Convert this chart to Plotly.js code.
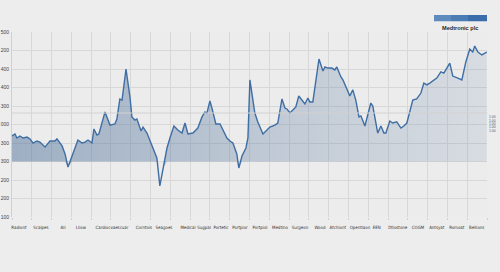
<!DOCTYPE html>
<html>
<head>
<meta charset="utf-8">
<script src="https://cdn.plot.ly/plotly-3.0.1.min.js"></script>
<style>html,body{margin:0;padding:0;background:#ededed;}#chart{width:500px;height:272px;}</style>
</head>
<body>
<div id="chart"></div>
<script>
// Category labels along the x axis and where each sits (axis units, 0..24)
const categories = ["Radiont","Scalpes","All","Lliow","Cardiocvaescuar","Corntois","Seagoes","Medical","Sugpal","Portetic","Portplor","Portpiol","Medtino","Surgeon","Wood","Atchiont","Opentiaon","EEN","Dtiostone","COGM","Antsyat","Romoat","Bellions"];
const categoryPos = [0.35,1.46,2.58,3.48,5.05,6.67,7.68,8.89,9.70,10.56,11.52,12.53,13.54,14.55,15.56,16.46,17.58,18.43,19.49,20.51,21.46,22.47,23.48];

// Series: Medtronic plc
const seriesName = "Medtronic plc";
const seriesX = [0,0.15,0.25,0.40,0.56,0.76,0.91,1.06,1.26,1.41,
  1.67,1.92,2.17,2.27,2.53,2.68,2.83,3.03,3.18,3.33,
  3.54,3.69,3.84,4.04,4.14,4.29,4.39,4.70,4.95,5.20,
  5.30,5.45,5.56,5.76,5.96,6.06,6.21,6.31,6.52,6.62,
  6.82,6.92,7.12,7.32,7.47,7.63,7.83,7.98,8.18,8.38,
  8.59,8.74,8.89,9.14,9.39,9.60,9.75,9.85,10.00,10.10,
  10.30,10.51,10.76,10.86,11.01,11.16,11.36,11.46,11.62,11.82,
  11.92,12.02,12.27,12.42,12.68,12.78,13.03,13.28,13.43,13.64,
  13.79,13.89,14.04,14.19,14.34,14.49,14.70,14.80,14.95,15.05,
  15.20,15.35,15.51,15.71,15.81,15.96,16.16,16.31,16.41,16.62,
  16.72,16.92,17.07,17.22,17.37,17.53,17.63,17.83,18.13,18.23,
  18.48,18.64,18.79,18.89,19.09,19.24,19.44,19.65,19.80,19.95,
  20.25,20.45,20.66,20.81,20.96,21.11,21.26,21.46,21.67,21.82,
  22.12,22.27,22.53,22.73,22.93,23.13,23.28,23.38,23.54,23.74,
  23.99];
const seriesY = [538,549,527,538,527,532,522,500,511,505,
  478,511,511,522,484,441,370,430,473,516,
  500,505,516,500,576,543,549,668,597,603,
  630,738,732,900,749,641,624,630,565,586,
  554,527,473,419,268,365,473,527,592,570,
  554,608,549,554,581,641,668,662,727,689,
  603,603,543,527,511,500,441,365,430,473,
  527,841,662,614,549,559,586,597,608,738,
  689,684,662,678,695,754,722,711,743,722,
  722,841,954,889,911,905,905,895,911,857,
  841,792,754,787,732,641,646,592,716,700,
  554,592,554,554,619,608,614,581,592,608,
  732,738,770,824,814,824,835,851,884,878,
  932,862,851,841,938,1008,992,1024,992,976,
  992];

// Fill reference level and a highlighted level line
const fillBase = 400;
const refLevel = 662;

// Y tick labels (as printed in the reference)
const yTickVals = [100,200,300,400,500,600,700,800,900,1000,1100];
const yTickText = ["100","200","200","300","300","000","300","400","400","200","500"];
// Small right-hand scale labels
const y2TickVals = [565,586,603,619,641];
const y2TickText = ["1.00","1.00","1.00","1.00","1.00"];

const baseY = seriesY.map(v => Math.min(v, fillBase));

const traces = [
  {x: seriesX, y: baseY, type: 'scatter', mode: 'lines', line: {width: 0, color: 'rgba(0,0,0,0)'}, hoverinfo: 'skip', showlegend: false},
  {x: seriesX, y: seriesY, type: 'scatter', mode: 'lines', name: seriesName, fill: 'tonexty',
   fillgradient: {type: 'horizontal', colorscale: [[0,'rgba(70,106,150,0.47)'],[0.5,'rgba(70,106,150,0.28)'],[1,'rgba(70,106,150,0.12)']]},
   line: {color: '#3e6ea4', width: 1.4}, showlegend: false},
  {x: [0], y: [fillBase], yaxis: 'y2', type: 'scatter', mode: 'markers', marker: {opacity: 0}, hoverinfo: 'skip', showlegend: false}
];

const gridCol = '#d8d8d8';
const layout = {
  width: 500, height: 272,
  margin: {l: 12, r: 13, t: 32, b: 55},
  paper_bgcolor: '#ededed',
  plot_bgcolor: '#ececec',
  font: {family: 'Liberation Sans, Arial, sans-serif', color: '#333'},
  showlegend: false,
  xaxis: {
    range: [0, 24], showgrid: false, zeroline: false, showline: false,
    tickmode: 'array', tickvals: categoryPos, ticktext: categories, tickangle: 0,
    tickfont: {family: 'DejaVu Sans Condensed, Liberation Sans Narrow, Liberation Sans, sans-serif', size: 4.4, color: '#333'},
    ticks: '', ticklabelstandoff: 7,
    minor: {tickmode: 'linear', tick0: 0, dtick: 1, showgrid: true, gridcolor: gridCol, gridwidth: 1, ticks: 'outside', ticklen: 2, tickcolor: '#cfcfcf'}
  },
  yaxis: {
    range: [100, 1100], showgrid: true, gridcolor: gridCol, gridwidth: 1, zeroline: false,
    showline: true, linecolor: '#d0d0d0', linewidth: 1,
    tickmode: 'array', tickvals: yTickVals, ticktext: yTickText,
    tickfont: {size: 5, color: '#444'}, ticks: '', ticklabelstandoff: 1
  },
  yaxis2: {
    range: [100, 1100], overlaying: 'y', side: 'right', showgrid: false, zeroline: false, showline: false,
    tickmode: 'array', tickvals: y2TickVals, ticktext: y2TickText,
    tickfont: {size: 3.4, color: '#555'}, ticks: '', ticklabelstandoff: 1
  },
  shapes: [
    {type: 'line', xref: 'paper', yref: 'y', x0: 0, x1: 1, y0: refLevel, y1: refLevel, line: {color: '#d2d2d2', width: 1}},
    {type: 'rect', xref: 'paper', yref: 'paper', x0: 0.8884, x1: 0.9242, y0: 1.058, y1: 1.092, fillcolor: '#5f8abd', line: {width: 0}},
    {type: 'rect', xref: 'paper', yref: 'paper', x0: 0.9242, x1: 0.96, y0: 1.058, y1: 1.092, fillcolor: '#4c7cb4', line: {width: 0}},
    {type: 'rect', xref: 'paper', yref: 'paper', x0: 0.96, x1: 1.0, y0: 1.058, y1: 1.092, fillcolor: '#3b6dab', line: {width: 0}}
  ],
  annotations: [
    {text: seriesName, xref: 'paper', yref: 'paper', x: 0.944, y: 1.02, xanchor: 'center', yanchor: 'middle', showarrow: false,
     font: {size: 5.6, color: '#2a2a2a', weight: 'bold'}}
  ]
};

Plotly.newPlot('chart', traces, layout, {displayModeBar: false, staticPlot: true});
</script>
</body>
</html>
